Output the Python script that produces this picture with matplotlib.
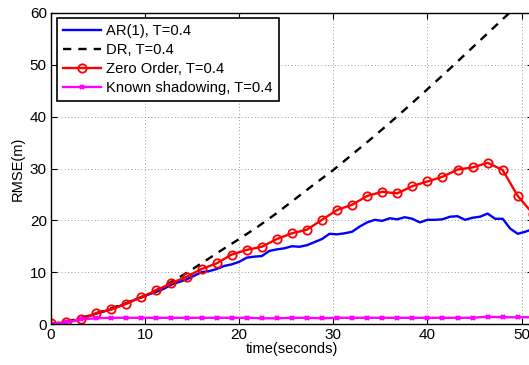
import numpy as np
import matplotlib
matplotlib.use("Agg")
import matplotlib.pyplot as plt

plt.rcParams['font.family'] = ['Liberation Sans', 'DejaVu Sans']

# time grids (seconds)
t_blue = np.arange(0, 51.21, 0.8)
t_mark = np.arange(0, 51.21, 1.6)
t_dr = np.arange(0, 52.01, 2.0)

ar1 = [0.0, 0.1, 0.3, 0.6, 1.0, 1.5, 2.0, 2.4, 2.9, 3.4,
       4.0, 4.6, 5.2, 5.7, 6.2, 6.8, 7.6, 8.1, 8.6,
       9.3, 10.0, 10.2, 10.6, 11.2, 11.5, 12.0, 12.8, 13.0, 13.1,
       14.1, 14.4, 14.6, 15.0, 14.9, 15.2, 15.8, 16.4, 17.4, 17.3,
       17.5, 17.8, 18.8, 19.6, 20.1, 19.9, 20.4, 20.2, 20.6, 20.3,
       19.6, 20.1, 20.1, 20.2, 20.7, 20.8, 20.1, 20.5, 20.7, 21.3,
       20.3, 20.3, 18.4, 17.4, 17.8, 18.3]

dr = [0.0, 0.6, 1.6, 2.8, 4.0, 5.4, 7.3, 9.4, 11.7, 14.1, 16.4, 18.8, 21.4,
      24.2, 27.0, 29.7, 32.7, 35.7, 38.8, 42.0, 45.3, 48.6, 52.0, 55.4,
      58.8, 62.2, 65.6]

zero_order = [0.1, 0.3, 1.0, 2.1, 2.8, 3.9, 5.2, 6.5, 7.9, 9.1, 10.6, 11.7,
              13.4, 14.3, 14.9, 16.4, 17.5, 18.2, 20.1, 22.0, 23.0, 24.7,
              25.5, 25.2, 26.6, 27.5, 28.4, 29.8, 30.2, 31.1, 29.7, 24.7,
              21.3]

known = [0.0, 0.3, 0.9, 1.1, 1.2, 1.2, 1.2, 1.2, 1.2, 1.2, 1.2, 1.2, 1.2,
         1.2, 1.1, 1.1, 1.2, 1.2, 1.1, 1.2, 1.2, 1.2, 1.2, 1.2, 1.2, 1.2,
         1.2, 1.2, 1.2, 1.4, 1.3, 1.3, 1.3]

labels = ['AR(1), T=0.4', 'DR, T=0.4', 'Zero Order, T=0.4', 'Known shadowing, T=0.4']
xticks = [0, 10, 20, 30, 40, 50]
yticks = [0, 10, 20, 30, 40, 50, 60]

W, H = 529, 365
fig = plt.figure(figsize=(W / 100, H / 100), dpi=100)
px_per_unit = 9.41
ax = fig.add_axes([51 / W, 41 / H, 51.2 * px_per_unit / W, 311 / H])

ax.plot(t_blue, ar1, color=(0, 0, 1), lw=1.7, label=labels[0])
ax.plot(t_dr, dr, color='k', lw=1.7, dashes=(3.5, 3), label=labels[1])
ax.plot(t_mark, zero_order, color=(1, 0, 0), lw=1.7, marker='o', ms=6,
        mfc='none', mew=1.3, label=labels[2])
ax.plot(t_mark, known, color=(1, 0, 1), lw=1.7, marker='x', ms=3.5,
        mew=1.6, label=labels[3])

ax.set_xlim(0, 51.2)
ax.set_ylim(0, 60)
ax.set_xticks(xticks)
ax.set_yticks(yticks)
ax.tick_params(direction='in', length=4.5, width=0.8, top=True, right=True,
               labelsize=11, pad=3)
for s in ax.spines.values():
    s.set_linewidth(1.0)
ax.grid(True, color='#777777', linestyle=(0, (1, 3)), lw=0.6)
ax.set_axisbelow(True)

ax.set_xlabel('time(seconds)', fontsize=10.5, labelpad=0)
ax.set_ylabel('RMSE(m)', fontsize=10.5, labelpad=4)

leg = ax.legend(loc='upper left', bbox_to_anchor=(57 / W, 1 - 18 / H),
                bbox_transform=fig.transFigure, borderaxespad=0,
                fontsize=10.6, fancybox=False, framealpha=1, edgecolor='k',
                handlelength=2.6, handletextpad=0.35, labelspacing=0.34,
                borderpad=0.4)
leg.get_frame().set_linewidth(1.2)

fig.savefig('out.png', dpi=100)
